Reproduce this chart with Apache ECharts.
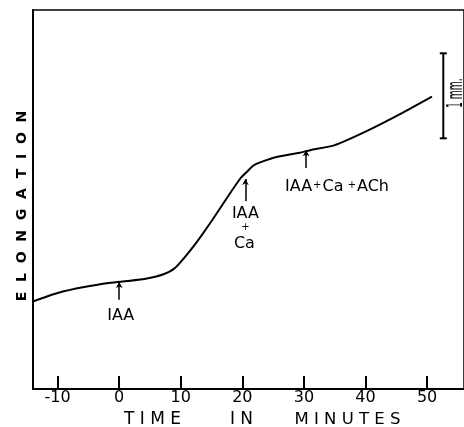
<!DOCTYPE html>
<html><head><meta charset="utf-8">
<script src="https://cdn.jsdelivr.net/npm/echarts@6/dist/echarts.min.js"></script>
<style>html,body{margin:0;padding:0;background:#fff}#c{width:464px;height:427px}</style>
</head><body><div id="c"></div>
<script>
// ---- data (time in minutes, elongation in mm) ----
const timeMin    = [-14, -10, -5.7, -1.4, 1.3, 4.5, 7.2, 9.0, 11.2, 13.3, 15.5, 17.6, 19.7, 20.8, 21.8, 23.0, 25.6, 29.3, 31.0, 35.0, 40.6, 46.0, 50.8];
const elongation = [1.03, 1.13, 1.20, 1.25, 1.27, 1.30, 1.35, 1.42, 1.60, 1.80, 2.03, 2.26, 2.48, 2.56, 2.63, 2.67, 2.73, 2.78, 2.81, 2.87, 3.05, 3.25, 3.44];
const tickValues = [-10, 0, 10, 20, 30, 40, 50];
// treatment additions (arrows)
const treatTimes  = [0, 20.5, 30.35];
const arrowFrom   = [1.05, 2.21, 2.60];
const arrowTo     = [1.26, 2.47, 2.81];
const yAxisTitle  = 'E  L  O  N  G  A  T  I  O  N';
const xTitleWords = ['T I M E', 'I N', 'M I N U T E S'];
const scaleText   = '1 mm.';

const FONT = 'DejaVu Sans';
const chart = echarts.init(document.getElementById('c'), null, {renderer: 'canvas'});

const lineData = timeMin.map((t, i) => [t, elongation[i]]);
const arrowLines = treatTimes.map((t, i) => [
  {coord: [t, arrowFrom[i]], symbol: 'none'},
  {coord: [t, arrowTo[i]], symbol: 'arrow'}
]);

chart.setOption({
  animation: false,
  backgroundColor: '#fff',
  grid: {left: 33, right: -4.4, top: 10, bottom: 38, show: true, borderColor: '#000', borderWidth: 1.5, containLabel: false},
  xAxis: {
    type: 'value', min: -14, max: 56,
    axisLine: {show: true, onZero: false, lineStyle: {color: '#000', width: 2}},
    axisTick: {show: true, customValues: tickValues, inside: true, length: 13, lineStyle: {color: '#000', width: 2}},
    axisLabel: {show: true, customValues: tickValues, color: '#000', fontSize: 16, fontFamily: FONT, margin: 1},
    splitLine: {show: false}
  },
  yAxis: {
    type: 'value', min: 0, max: 4.46,
    axisLine: {show: true, onZero: false, lineStyle: {color: '#000', width: 2}},
    axisTick: {show: false}, axisLabel: {show: false}, splitLine: {show: false}
  },
  series: [{
    type: 'line', data: lineData, symbol: 'none', smooth: 0.2,
    lineStyle: {color: '#000', width: 2},
    markLine: {
      silent: true, symbolSize: [5, 6],
      lineStyle: {color: '#000', width: 1.5, type: 'solid'},
      label: {show: false},
      data: arrowLines
    }
  }]
});

const px = (t, y) => chart.convertToPixel({gridIndex: 0}, [t, y]);
const a1 = px(treatTimes[0], arrowFrom[0]);
const a2 = px(treatTimes[1], arrowFrom[1]);
const a3 = px(treatTimes[2], arrowFrom[2]);
const txt = (x, y, text, size, extra) => Object.assign({
  type: 'text', x: x, y: y,
  style: Object.assign({text: text, fill: '#000', font: size + 'px "' + FONT + '"', align: 'center', verticalAlign: 'middle'}, extra || {})
});

chart.setOption({
  graphic: [
    // y axis title
    {type: 'text', x: 22, y: 206, rotation: Math.PI / 2,
     style: {text: yAxisTitle, fill: '#000', font: 'bold 14px "' + FONT + '"', align: 'center', verticalAlign: 'middle'}},
    // x axis title
    txt(152.5, 420, xTitleWords[0], 17),
    txt(241.5, 420, xTitleWords[1], 17),
    txt(347.5, 420, xTitleWords[2], 16.5),
    // treatment labels
    txt(a1[0] + 1.5, a1[1] + 16, 'IAA', 16),
    txt(a2[0], a2[1] + 12.5, 'IAA', 16),
    txt(a2[0], a2[1] + 26, '+', 10),
    txt(a2[0] - 1, a2[1] + 43, 'Ca', 16),
    {type: 'text', x: a3[0] - 21, y: a3[1] + 19,
     style: {text: '{a|IAA}{p|+}{a|Ca}{p| +}{a|ACh}', fill: '#000', align: 'left', verticalAlign: 'middle',
       rich: {a: {font: '16px "' + FONT + '"', fill: '#000'}, p: {font: '10px "' + FONT + '"', fill: '#000', padding: [0, 1, 3, 1]}}}},
    // scale bar
    {type: 'line', shape: {x1: 443.3, y1: 53.3, x2: 443.3, y2: 138.3}, style: {stroke: '#000', lineWidth: 2}},
    {type: 'line', shape: {x1: 439.8, y1: 53.3, x2: 446.8, y2: 53.3}, style: {stroke: '#000', lineWidth: 2}},
    {type: 'line', shape: {x1: 439.8, y1: 138.3, x2: 446.8, y2: 138.3}, style: {stroke: '#000', lineWidth: 2}},
    {type: 'text', x: 445, y: 108, rotation: Math.PI / 2, scaleX: 0.42,
     style: {text: scaleText, fill: '#000', font: '22px "' + FONT + '"', align: 'left', verticalAlign: 'top'}}
  ]
});
</script>
</body></html>
